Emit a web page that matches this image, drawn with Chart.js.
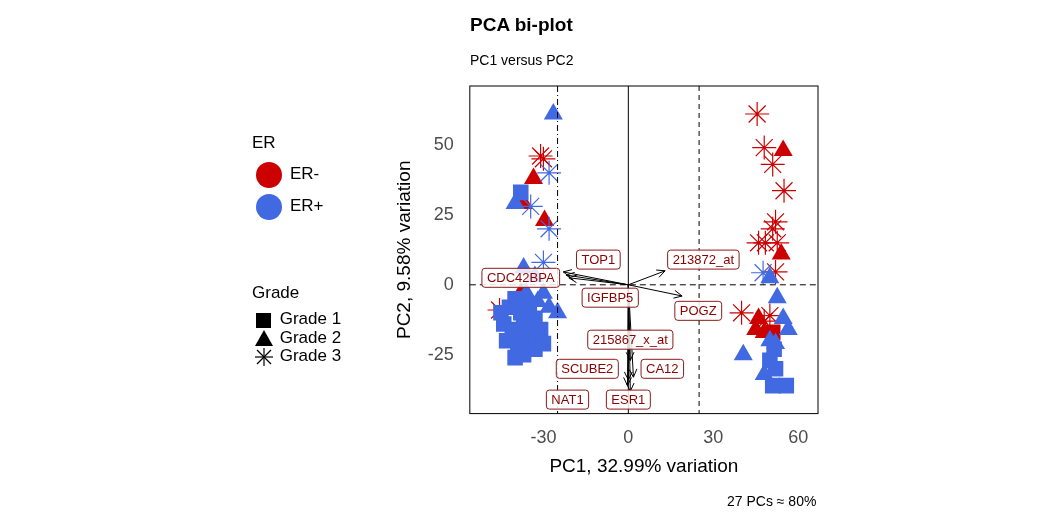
<!DOCTYPE html>
<html><head><meta charset="utf-8">
<script src="https://cdn.jsdelivr.net/npm/chart.js@4/dist/chart.umd.min.js"></script>
<style>
body{margin:0;background:#fff;font-family:"Liberation Sans",Arial,sans-serif;}
#wrap{position:absolute;left:0;top:0;width:1056px;height:528px;}
.t{position:absolute;white-space:nowrap;color:#000;}
.sw{display:inline-block;vertical-align:middle;margin-right:8px;}
</style></head>
<body>
<div id="wrap"><canvas id="c" width="1056" height="528"></canvas></div>
<div class="t" style="left:470px;top:14px;font-size:19px;font-weight:bold">PCA bi-plot</div>
<div class="t" style="left:470px;top:52px;font-size:14px">PC1 versus PC2</div>
<div class="t" style="left:727px;top:493px;font-size:14px">27 PCs ≈ 80%</div>
<div class="t" style="left:252px;top:133px;font-size:17px">ER</div>
<div class="t" style="left:256px;top:162px;font-size:17px"><span class="sw" style="width:26px;height:26px;border-radius:50%;background:#cc0000"></span>ER-</div>
<div class="t" style="left:256px;top:194px;font-size:17px"><span class="sw" style="width:26px;height:26px;border-radius:50%;background:#4169e1"></span>ER+</div>
<div class="t" style="left:252px;top:283px;font-size:17px">Grade</div>
<div class="t" style="left:253px;top:310px;font-size:17px;line-height:17px">
<svg width="22" height="18" style="vertical-align:middle"><rect x="3" y="2" width="15" height="15"/></svg> Grade 1<br>
<svg width="22" height="18" style="vertical-align:middle"><polygon points="11,1 20,17 2,17"/></svg> Grade 2<br>
<svg width="22" height="18" style="vertical-align:middle" stroke="#000" stroke-width="1.2"><line x1="11" y1="0" x2="11" y2="18"/><line x1="2" y1="9" x2="20" y2="9"/><line x1="4" y1="2" x2="18" y2="16"/><line x1="18" y1="2" x2="4" y2="16"/></svg> Grade 3</div>
<script>
// samples: ER-/ER+ by grade (PC1, PC2)
const erNegG2 = [[-33.5,38],[-37,29],[-29.6,23],[-38,-3],[54.7,48],[54,11],[46,-12],[45,-16],[48,-17]];
const erNegG3 = [[-31,46],[-30,45],[-45.5,-9],[45.5,61],[48,49],[51,43],[55,33.6],[52,22.5],[51,20],[46,15],[48.4,15],[52.6,15],[52,4.6],[40,-10],[50,-11],[48,-13]];
const erNegG1 = [[51,-17]];
const erPosG1 = [[-38,33],[-42,-8],[-40,-5],[-38,-10],[-35,-7],[-33,-12],[-44,-14],[-41,-16],[-37,-15],[-34,-18],[-31,-16],[-43,-20],[-39,-22],[-36,-21],[-33,-23],[-40,-26],[-37,-25],[-30,-21],[-45,-10],[-38,-18],[-35,-13],[51.5,-23],[52,-30],[51,-36],[55.8,-36],[50,-27]];
const erPosG2 = [[-26.5,61],[-40,29],[-37,6],[-33,3],[-30,-3],[-36,-3],[-28,-8],[-25,-10],[-32,-6],[50,2.5],[52.6,-4.6],[54.7,-12],[56.5,-16],[50,-20],[52,-21],[40.6,-25],[48,-32]];
const erPosG3 = [[-28,40],[-34.5,28],[-28,20],[-30,8],[47.6,4.3]];
// loadings
const genes = ["TOP1","CDC42BPA","IGFBP5","213872_at","POGZ","215867_x_at","SCUBE2","CA12","NAT1","ESR1"];
const loadX = [-23,-22,-21,13,19,0.7,0,1.8,-0.3,0.7];
const loadY = [4.6,3.5,2.5,5,-4,-27,-34,-33,-36,-38];
const labX = [-10.6,-38,-6.4,26.5,24.7,0.7,-14.5,12,-21.5,0];
const labY = [9,2.5,-4.6,9,-9.3,-19.6,-30,-30,-41,-41];
const xTicks = [-30,0,30,60];
const yTicks = [-25,0,25,50];

const RED = "#cc0000", BLUE = "#4169e1";
function pts(a){return a.map(p=>({x:p[0],y:p[1]}));}
function ds(d,col,style,r){return {data:pts(d),pointStyle:style,pointRadius:r,backgroundColor:col,borderColor:col,borderWidth:style==="star"?1.2:0};}

const overlay = {
  id:"overlay",
  afterDatasetsDraw(ch){
    const c=ch.ctx, xs=ch.scales.x, ys=ch.scales.y, a=ch.chartArea;
    c.save();
    c.strokeStyle="#000";c.lineWidth=1;
    function vline(v,dash){c.setLineDash(dash);c.beginPath();c.moveTo(xs.getPixelForValue(v),a.top);c.lineTo(xs.getPixelForValue(v),a.bottom);c.stroke();}
    vline(0,[]);vline(25,[5,4]);vline(-25,[6,3,1,3]);
    c.setLineDash([6,4]);c.beginPath();c.moveTo(a.left,ys.getPixelForValue(0));c.lineTo(a.right,ys.getPixelForValue(0));c.stroke();
    c.setLineDash([]);
    const ox=xs.getPixelForValue(0), oy=ys.getPixelForValue(0);
    genes.forEach((g,i)=>{
      const ex=xs.getPixelForValue(loadX[i]), ey=ys.getPixelForValue(loadY[i]);
      c.beginPath();c.moveTo(ox,oy);c.lineTo(ex,ey);c.stroke();
      const ang=Math.atan2(ey-oy,ex-ox);
      c.beginPath();
      c.moveTo(ex-9*Math.cos(ang-0.45),ey-9*Math.sin(ang-0.45));c.lineTo(ex,ey);
      c.lineTo(ex-9*Math.cos(ang+0.45),ey-9*Math.sin(ang+0.45));c.stroke();
    });
    c.font="13px 'Liberation Sans', Arial";c.textAlign="center";c.textBaseline="middle";
    genes.forEach((g,i)=>{
      const lx=xs.getPixelForValue(labX[i]), ly=ys.getPixelForValue(labY[i]);
      const w=c.measureText(g).width+10, h=19;
      c.fillStyle="rgba(255,255,255,0.85)";c.strokeStyle="#8b1a1a";
      c.beginPath();c.roundRect(lx-w/2,ly-h/2,w,h,3);c.fill();c.stroke();
      c.fillStyle="#8b0000";c.fillText(g,lx,ly+1);
    });
    c.strokeStyle="#000";c.strokeRect(a.left,a.top,a.right-a.left,a.bottom-a.top);
    c.restore();
  }
};

new Chart(document.getElementById("c"),{
  type:"scatter",
  data:{datasets:[ds(erPosG1,BLUE,"rect",11),ds(erPosG2,BLUE,"triangle",11),ds(erPosG3,BLUE,"star",12),
                  ds(erNegG1,RED,"rect",11),ds(erNegG2,RED,"triangle",11),ds(erNegG3,RED,"star",12)]},
  options:{
    responsive:false,animation:false,
    layout:{padding:{left:389,right:238,top:86,bottom:46}},
    plugins:{legend:{display:false},tooltip:{enabled:false}},
    scales:{
      x:{type:"linear",min:-56,max:67,grid:{display:false},border:{display:false},
         afterBuildTicks:s=>{s.ticks=xTicks.map(v=>({value:v}));},
         ticks:{color:"#4d4d4d",font:{size:18},padding:6},
         title:{display:true,text:"PC1, 32.99% variation",color:"#000",font:{size:19},padding:{top:0}}},
      y:{type:"linear",min:-46,max:71,grid:{display:false},border:{display:false},
         afterBuildTicks:s=>{s.ticks=yTicks.map(v=>({value:v}));},
         ticks:{color:"#4d4d4d",font:{size:18},padding:8},
         title:{display:true,text:"PC2, 9.58% variation",color:"#000",font:{size:19},padding:{bottom:4}}}
    }
  },
  plugins:[overlay]
});
</script>
</body></html>
